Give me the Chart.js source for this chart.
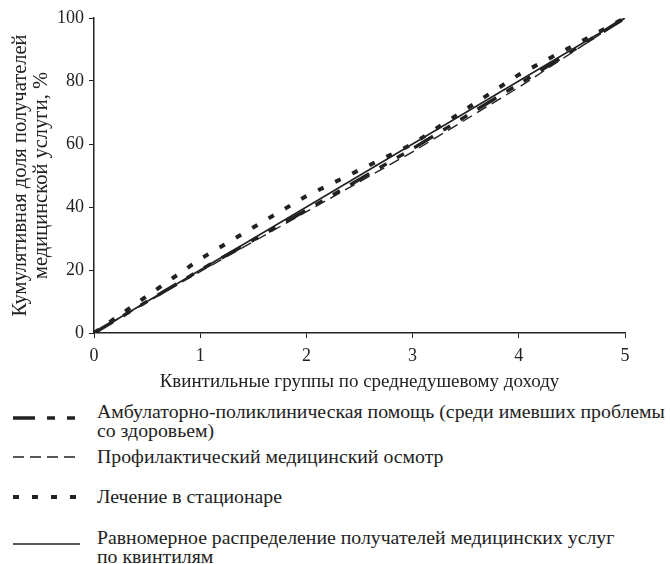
<!DOCTYPE html>
<html>
<head>
<meta charset="utf-8">
<script src="https://cdn.jsdelivr.net/npm/chart.js@4/dist/chart.umd.min.js"></script>
<style>
  body { margin: 0; background: #fff; font-family: "Liberation Serif", "DejaVu Serif", serif; color: #222; }
  #wrap { position: relative; width: 670px; height: 564px; overflow: hidden; }
  #chartBox { position: absolute; left: 0; top: 0; width: 670px; height: 396px; }
  .legend-row { position: absolute; left: 0; width: 670px; font-size: 19.8px; line-height: 19px; }
  .legend-row canvas { position: absolute; left: 6px; }
  .legend-row .txt { position: absolute; left: 97px; top: 0; white-space: nowrap; }
</style>
</head>
<body>
<div id="wrap">
  <div id="chartBox"><canvas id="lorenzChart"></canvas></div>
  <div id="legend"></div>
</div>
<script>
// quintile positions and cumulative shares, %
const quintiles = [0, 1, 2, 3, 4, 5];
const ambulatory = [0, 20, 39, 58.5, 79, 100];
const checkup = [0, 19.5, 38.5, 57.5, 78, 100];
const inpatient = [0, 23.5, 43.5, 60, 82, 100];
const uniform = [0, 20, 40, 60, 80, 100];

const yTicks = [0, 20, 40, 60, 80, 100];

// legend texts, split into lines as in the figure
const seriesNames = [
    ["Амбулаторно-поликлиническая помощь (среди имевших проблемы", "со здоровьем)"],
    ["Профилактический медицинский осмотр"],
    ["Лечение в стационаре"],
    ["Равномерное распределение получателей медицинских услуг", "по квинтилям"]
];

const ink = "#222";
const serif = "'Liberation Serif', 'DejaVu Serif', serif";

function toPoints(values) {
    return quintiles.map((q, i) => ({ x: q, y: values[i] }));
}

const lineStyles = [
    { width: 3.5, dash: [22, 12, 8, 12, 8, 12] },
    { width: 1.4, dash: [11, 6] },
    { width: 4, dash: [6, 13] },
    { width: 1.6, dash: [] }
];

const seriesValues = [ambulatory, checkup, inpatient, uniform];

const datasets = seriesValues.map((vals, i) => ({
    label: seriesNames[i].join(" "),
    data: toPoints(vals),
    borderColor: ink,
    borderWidth: lineStyles[i].width,
    borderDash: lineStyles[i].dash,
    pointRadius: 0,
    fill: false,
    tension: 0
}));

new Chart(document.getElementById("lorenzChart"), {
    type: "line",
    data: { datasets: datasets },
    options: {
        responsive: true,
        maintainAspectRatio: false,
        animation: false,
        layout: { padding: { top: 18, right: 45, left: 0, bottom: 3 } },
        plugins: { legend: { display: false }, tooltip: { enabled: false } },
        scales: {
            x: {
                type: "linear",
                min: 0,
                max: 5,
                afterBuildTicks: (scale) => { scale.ticks = quintiles.map(v => ({ value: v })); },
                afterFit: (scale) => { scale.height = 60; },
                ticks: { color: ink, font: { family: serif, size: 18 }, padding: 7, maxRotation: 0 },
                grid: { drawOnChartArea: false, color: ink, tickLength: 5, tickColor: ink },
                border: { color: ink, width: 1.5 },
                title: {
                    display: true,
                    text: "Квинтильные группы по среднедушевому доходу",
                    color: ink,
                    font: { family: serif, size: 19, lineHeight: 1.2 },
                    padding: { top: 0, bottom: 0 }
                }
            },
            y: {
                min: 0,
                max: 100,
                afterBuildTicks: (scale) => { scale.ticks = yTicks.map(v => ({ value: v })); },
                afterFit: (scale) => { scale.width = 94; },
                ticks: { color: ink, font: { family: serif, size: 18 }, padding: 5 },
                grid: { drawOnChartArea: false, color: ink, tickLength: 5, tickColor: ink },
                border: { color: ink, width: 1.5 },
                title: {
                    display: true,
                    text: ["Кумулятивная доля получателей", "медицинской услуги, %"],
                    color: ink,
                    font: { family: serif, size: 20.5, lineHeight: 1.03 },
                    padding: { top: 10, bottom: 0 }
                }
            }
        }
    }
});

// legend below the chart, line samples drawn on small canvases
const legendTops = [402, 447, 487, 528];
const legendBox = document.getElementById("legend");
seriesNames.forEach((lines, i) => {
    const row = document.createElement("div");
    row.className = "legend-row";
    row.style.top = legendTops[i] + "px";
    const c = document.createElement("canvas");
    c.width = 80; c.height = 14;
    c.style.top = (lines.length > 1 ? 9 : 3) + "px";
    const ctx = c.getContext("2d");
    ctx.strokeStyle = ink;
    ctx.lineWidth = lineStyles[i].width;
    ctx.setLineDash(lineStyles[i].dash);
    ctx.beginPath();
    ctx.moveTo(7, 7);
    ctx.lineTo(74, 7);
    ctx.stroke();
    row.appendChild(c);
    const t = document.createElement("div");
    t.className = "txt";
    t.innerHTML = lines.join("<br>");
    row.appendChild(t);
    legendBox.appendChild(row);
});
</script>
</body>
</html>
